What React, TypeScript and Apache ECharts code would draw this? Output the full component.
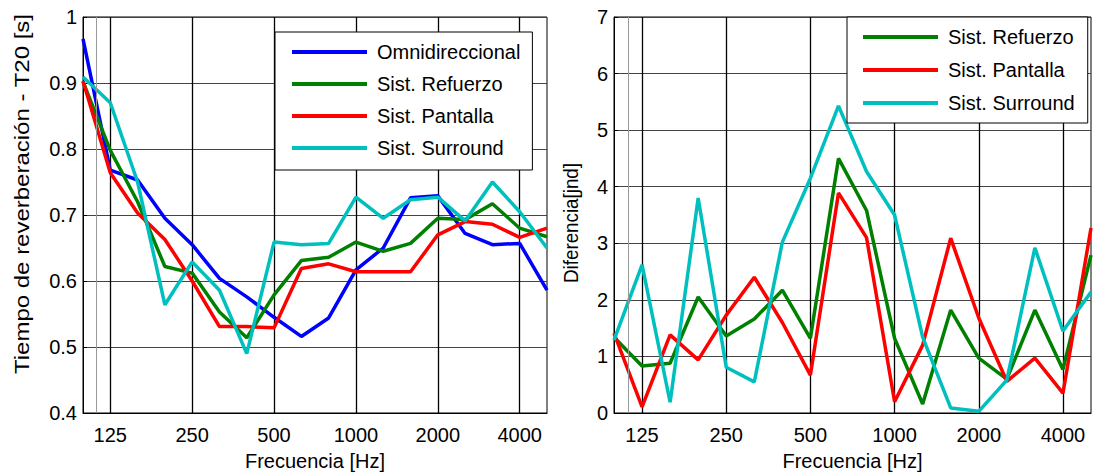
import React, { useEffect, useRef } from "react";
import * as echarts from "echarts";

// Third-octave band centre frequencies (Hz)
const FREQ = ["100", "125", "160", "200", "250", "315", "400", "500", "630", "800", "1000", "1250", "1600", "2000", "2500", "3150", "4000", "5000"];
const X_TICK_LABELS = ["125", "250", "500", "1000", "2000", "4000"];

// Left: reverberation time T20 [s]
const OMNI_T20 = [0.967, 0.768, 0.753, 0.695, 0.655, 0.604, 0.576, 0.545, 0.516, 0.544, 0.617, 0.65, 0.726, 0.729, 0.672, 0.655, 0.657, 0.586];
const REFUERZO_T20 = [0.902, 0.798, 0.72, 0.622, 0.612, 0.553, 0.514, 0.579, 0.631, 0.636, 0.659, 0.645, 0.657, 0.695, 0.693, 0.717, 0.68, 0.667];
const PANTALLA_T20 = [0.903, 0.764, 0.703, 0.663, 0.6, 0.531, 0.531, 0.529, 0.619, 0.626, 0.614, 0.614, 0.614, 0.67, 0.69, 0.686, 0.666, 0.68];
const SURROUND_T20 = [0.909, 0.87, 0.75, 0.564, 0.629, 0.586, 0.49, 0.659, 0.655, 0.657, 0.727, 0.695, 0.723, 0.727, 0.691, 0.75, 0.705, 0.65];

// Right: difference [jnd]
const REFUERZO_JND = [1.34, 0.83, 0.88, 2.05, 1.36, 1.66, 2.17, 1.32, 4.5, 3.58, 1.32, 0.16, 1.82, 0.97, 0.6, 1.82, 0.77, 2.79];
const PANTALLA_JND = [1.41, 0.11, 1.38, 0.94, 1.73, 2.4, 1.6, 0.67, 3.89, 3.1, 0.2, 1.2, 3.09, 1.68, 0.56, 0.97, 0.35, 3.27];
const SURROUND_JND = [1.29, 2.62, 0.19, 3.8, 0.81, 0.55, 3.02, 4.15, 5.43, 4.27, 3.5, 1.34, 0.09, 0.03, 0.58, 2.92, 1.45, 2.14];

const NAMES = ["Omnidireccional", "Sist. Refuerzo", "Sist. Pantalla", "Sist. Surround"];
const COLORS = ["#0000ff", "#008000", "#ff0000", "#00bfbf"];

const FONT = "Liberation Sans, Arial, Helvetica, sans-serif";

const isMajor = (idx: number) => X_TICK_LABELS.includes(FREQ[idx]);

export default function App() {
  const ref = useRef<HTMLDivElement>(null);
  useEffect(() => {
    if (!ref.current) return;
    const chart = echarts.init(ref.current, undefined, { renderer: "svg" });

    const xAxisBase = (gridIndex: number) => ({
      type: "category",
      gridIndex,
      data: FREQ,
      boundaryGap: false,
      name: "Frecuencia [Hz]",
      nameLocation: "middle",
      nameGap: 38,
      nameTextStyle: { fontSize: 20, color: "#000", fontFamily: FONT },
      axisLine: { show: true, lineStyle: { color: "#000", width: 1 } },
      axisTick: { show: true, inside: true, length: 4, interval: (i: number) => isMajor(i), lineStyle: { color: "#000" } },
      axisLabel: {
        fontSize: 20,
        color: "#000",
        fontFamily: FONT,
        margin: 12,
        interval: (i: number) => isMajor(i),
      },
      splitLine: { show: true, interval: (i: number) => isMajor(i), lineStyle: { color: "#000", width: 1.3 } },
    });

    // hidden linear axis (band index) used only for the thin minor grid line
    const xAxisHidden = (gridIndex: number) => ({
      type: "value",
      gridIndex,
      min: 0,
      max: FREQ.length - 1,
      show: false,
    });

    const yAxisBase = (gridIndex: number, min: number, max: number, interval: number) => ({
      type: "value",
      gridIndex,
      min,
      max,
      interval,
      axisLine: { show: true, lineStyle: { color: "#000", width: 1 } },
      axisTick: { show: true, inside: true, length: 4, lineStyle: { color: "#000" } },
      axisLabel: { fontSize: 20, color: "#000", fontFamily: FONT, margin: 6 },
      splitLine: { show: true, lineStyle: { color: "#444", width: 1 } },
    });

    const minorSeries = (axisIdx: number) => ({
      type: "line",
      xAxisIndex: axisIdx + 2,
      yAxisIndex: axisIdx,
      data: [],
      silent: true,
      markLine: {
        silent: true,
        symbol: "none",
        label: { show: false },
        lineStyle: { color: "#999", width: 1, type: "solid" },
        data: [{ xAxis: 0.5 }],
      },
    });

    const line = (name: string, color: string, vals: number[], axisIdx: number) => ({
      type: "line",
      name,
      xAxisIndex: axisIdx,
      yAxisIndex: axisIdx,
      data: vals,
      showSymbol: false,
      symbol: "none",
      lineStyle: { color, width: 3.5 },
      itemStyle: { color },
    });

    const legendBase = {
      orient: "vertical",
      icon: "rect",
      itemWidth: 75,
      itemHeight: 4,
      borderColor: "#000",
      borderWidth: 1,
      backgroundColor: "#fff",
      textStyle: { fontSize: 20, color: "#000", fontFamily: FONT, padding: [0, 0, 0, 5] },
      selectedMode: false,
    };

    const gridBase = {
      top: 17,
      height: 396,
      show: true,
      borderColor: "#000",
      borderWidth: 1,
      backgroundColor: "#fff",
      containLabel: false,
      outerBoundsMode: "none",
    };

    chart.setOption({
      animation: false,
      backgroundColor: "#fff",
      textStyle: { fontFamily: FONT },
      grid: [
        { ...gridBase, left: 83, width: 464 },
        { ...gridBase, left: 614, width: 477 },
      ],
      xAxis: [xAxisBase(0), xAxisBase(1), xAxisHidden(0), xAxisHidden(1)],
      yAxis: [yAxisBase(0, 0.4, 1, 0.1), yAxisBase(1, 0, 7, 1)],
      legend: [
        {
          ...legendBase,
          left: 275,
          top: 32,
          itemGap: 12,
          padding: [10, 12, 12, 17],
          data: NAMES,
        },
        {
          ...legendBase,
          left: 847,
          top: 17,
          itemGap: 13,
          padding: [10, 13, 10, 16],
          data: NAMES.slice(1),
        },
      ],
      graphic: [
        {
          type: "text",
          x: 22,
          y: 194,
          rotation: Math.PI / 2,
          scaleX: 1.2,
          style: {
            text: "Tiempo de reverberación - T20 [s]",
            fontSize: 20,
            fontFamily: FONT,
            fill: "#000",
            align: "center",
            verticalAlign: "middle",
          },
        },
        {
          type: "text",
          x: 571,
          y: 223,
          rotation: Math.PI / 2,
          scaleX: 0.94,
          style: {
            text: "Diferencia[jnd]",
            fontSize: 20,
            fontFamily: FONT,
            fill: "#000",
            align: "center",
            verticalAlign: "middle",
          },
        },
      ],
      series: [
        minorSeries(0),
        minorSeries(1),
        line(NAMES[0], COLORS[0], OMNI_T20, 0),
        line(NAMES[1], COLORS[1], REFUERZO_T20, 0),
        line(NAMES[2], COLORS[2], PANTALLA_T20, 0),
        line(NAMES[3], COLORS[3], SURROUND_T20, 0),
        line(NAMES[1], COLORS[1], REFUERZO_JND, 1),
        line(NAMES[2], COLORS[2], PANTALLA_JND, 1),
        line(NAMES[3], COLORS[3], SURROUND_JND, 1),
      ],
    });
    return () => chart.dispose();
  }, []);

  return (
    <div
      ref={ref}
      style={{ position: "fixed", left: 0, top: 0, width: 1096, height: 473, background: "#fff" }}
    />
  );
}
